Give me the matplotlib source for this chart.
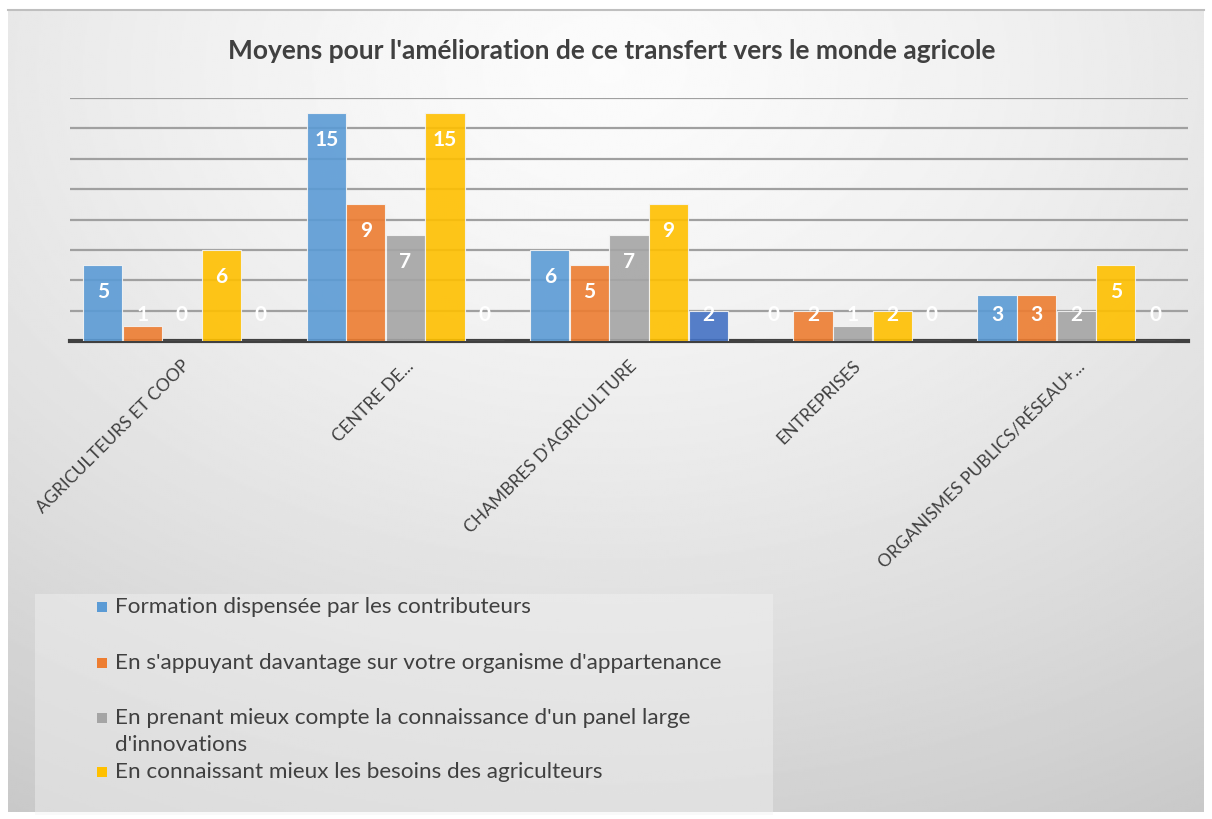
import numpy as np
import matplotlib
matplotlib.use("Agg")
import matplotlib.pyplot as plt
from matplotlib.patches import Rectangle

plt.rcParams['font.family'] = ['Lato', 'DejaVu Sans']

title = "Moyens pour l'amélioration de ce transfert vers le monde agricole"
categories = ["AGRICULTEURS ET COOP", "CENTRE DE...", "CHAMBRES D'AGRICULTURE",
              "ENTREPRISES", "ORGANISMES PUBLICS/RÉSEAU+..."]
series_names = ["Formation dispensée par les contributeurs",
                "En s'appuyant davantage sur votre organisme d'appartenance",
                "En prenant mieux compte la connaissance d'un panel large\nd'innovations",
                "En connaissant mieux les besoins des agriculteurs",
                ""]
s_formation = [5, 15, 6, 0, 3]
s_organisme = [1, 9, 5, 2, 3]
s_panel = [0, 7, 7, 1, 2]
s_besoins = [6, 15, 9, 2, 5]
s_autre = [0, 0, 2, 0, 0]
series = [s_formation, s_organisme, s_panel, s_besoins, s_autre]
colors = ["#5B9BD5", "#ED7D31", "#A5A5A5", "#FFC000", "#4472C4"]

W, H = 1212, 819
fig = plt.figure(figsize=(W/100, H/100), dpi=100)
fig.patch.set_facecolor("white")

# background gradient panel
bx0, by0, bx1, by1 = 8, 10, 1204, 812
bg = fig.add_axes([bx0/W, 1-by1/H, (bx1-bx0)/W, (by1-by0)/H], zorder=0)
yy, xx = np.mgrid[0:400, 0:600]
cx, cy = 300, 30
r = np.sqrt(((xx-cx)/600.0)**2 + ((yy-cy)/430.0)**2)
val = 0.985 - 0.2*np.clip(r, 0, 1.2)**1.4
bg.imshow(val, cmap="gray", vmin=0, vmax=1, aspect="auto", extent=[0, 1, 0, 1], origin="upper")
bg.set_axis_off()
# top border
fig.add_artist(plt.Line2D([bx0/W, bx1/W], [1-by0/H, 1-by0/H], color="#BFBFBF", lw=1.5))

# main axes
ax0, ax1, ay_top, ay_bot = 70, 1188, 98, 341
ax = fig.add_axes([ax0/W, 1-ay_bot/H, (ax1-ax0)/W, (ay_bot-ay_top)/H], zorder=2)
ax.patch.set_alpha(0)
n = len(categories)
x = np.arange(n)
bw = 0.177
for i, (s, c) in enumerate(zip(series, colors)):
    pos = x + (i-2)*bw
    ax.bar(pos, s, width=bw*0.99, color=c, alpha=0.9, edgecolor="#F4F4F4", lw=0.8, zorder=3)
    for xp, v in zip(pos, s):
        ax.text(xp, max(v-1.78, 1.7), str(v), ha="center", va="center", color="white",
                fontsize=15, fontweight="bold", zorder=4)
ax.set_xlim(-0.5, n-0.5)
ax.set_ylim(0, 16)
ax.set_yticks(np.arange(0, 17, 2))
ax.yaxis.grid(True, color="#A0A0A0", lw=1.6, zorder=1)
ax.set_axisbelow(True)
ax.tick_params(axis="y", left=False, labelleft=False)
ax.tick_params(axis="x", length=0, pad=12)
for sp in ["left", "right", "top"]:
    ax.spines[sp].set_visible(False)
ax.spines["bottom"].set_color("#404040")
ax.spines["bottom"].set_linewidth(3)
ax.set_xticks(x)
ax.set_xticklabels(categories, rotation=45, ha="right", va="top", rotation_mode="anchor",
                   fontsize=12.6, color="#404040")

fig.text(612/W, 1-51/H, title, ha="center", va="center", fontsize=19, fontweight="bold",
         color="#404040")

# legend box
lx0, ly0, lx1, ly1 = 35, 594, 773, 815
fig.add_artist(Rectangle((lx0/W, 1-ly1/H), (lx1-lx0)/W, (ly1-ly0)/H, transform=fig.transFigure,
                         facecolor="#F2F2F2", alpha=0.45, edgecolor="none", zorder=1))
item_y = [607, 663, 718, 772]
for name, c, yv in zip(series_names[:4], colors[:4], item_y):
    fig.add_artist(Rectangle((97/W, 1-(yv+5)/H), 10/W, 10/H, transform=fig.transFigure,
                             facecolor=c, edgecolor="none", zorder=3))
    for k, line in enumerate(name.split("\n")):
        fig.text(115/W, 1-(yv+27*k)/H, line, ha="left", va="center", fontsize=16.2,
                 color="#404040", zorder=3)

fig.savefig("out.png", dpi=100)
